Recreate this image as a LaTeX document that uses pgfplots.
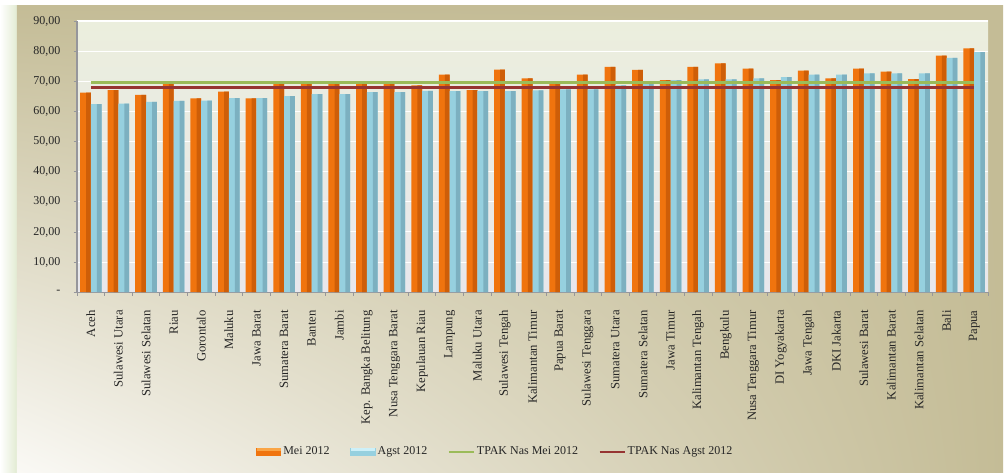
\documentclass[border=0pt]{standalone}
\usepackage{fontspec}
\setmainfont{Liberation Serif}
\usepackage{pgfplots}
\usepackage{pgfplotstable}
\pgfplotsset{compat=1.18}
\usetikzlibrary{shadings}

\definecolor{frametan}{RGB}{196,188,150}
\definecolor{framelight}{RGB}{250,249,245}
\definecolor{glow}{RGB}{226,235,210}
\definecolor{plottop}{RGB}{235,238,221}
\definecolor{plotbot}{RGB}{232,231,236}
\definecolor{orL}{RGB}{240,116,14}
\definecolor{orD}{RGB}{206,94,8}
\definecolor{orCap}{RGB}{250,165,70}
\definecolor{blL}{RGB}{150,208,223}
\definecolor{blD}{RGB}{124,176,192}
\definecolor{blCap}{RGB}{205,240,248}
\definecolor{tpakG}{RGB}{155,187,89}
\definecolor{tpakR}{RGB}{150,52,50}
\definecolor{axisgray}{RGB}{150,150,155}

\pgfplotstableread{
x mei agst
0 66.2 62.4
1 67.1 62.6
2 65.5 63.2
3 69.1 63.5
4 64.3 63.6
5 66.6 64.4
6 64.3 64.4
7 69.1 65.1
8 69.1 65.7
9 69.1 65.7
10 69.1 66.4
11 69.1 66.4
12 68.6 66.8
13 72.2 66.7
14 67.1 66.7
15 73.9 66.7
16 71.0 67.0
17 69.3 67.3
18 72.2 67.3
19 74.8 68.6
20 73.8 70.0
21 70.4 70.4
22 74.8 70.6
23 75.9 70.6
24 74.2 71.0
25 70.4 71.4
26 73.5 72.2
27 71.0 72.2
28 74.2 72.6
29 73.2 72.6
30 70.7 72.6
31 78.5 77.8
32 80.9 79.7
}\tpak

\begin{document}
\begin{tikzpicture}
\useasboundingbox (-57.75pt,-136.35pt) rectangle (696.75pt,219.15pt);
\fill[white] (-57.75pt,-136.35pt) rectangle (696.75pt,219.15pt);
\shade[left color=white, right color=glow] (-57.75pt,-134.85pt) rectangle (-45pt,214.65pt);
\shade[upper left=frametan, upper right=frametan, lower right=frametan, lower left=framelight]
  (-45pt,-134.85pt) rectangle (694.5pt,214.65pt);
\begin{axis}[
  at={(0pt,0pt)}, anchor=south west,
  scale only axis, width=683.25pt, height=203.4pt,
  xmin=-0.5, xmax=32.5, ymin=0, ymax=90,
  axis background/.style={shade, top color=plottop, bottom color=plotbot},
  axis x line*=bottom, axis y line*=left,
  axis line style={axisgray, line width=0.8pt},
  tick style={axisgray, line width=0.6pt},
  tick align=outside, major tick length=2.5pt,
  ymajorgrids, major grid style={white, line width=0.8pt},
  ytick={0,10,...,90},
  yticklabels={{-},{10,00},{20,00},{30,00},{40,00},{50,00},{60,00},{70,00},{80,00},{90,00}},
  yticklabel style={font=\fontsize{9}{10}\selectfont, text=black!85},
  yticklabel shift=6.5pt,
  xtick={-0.5,0.5,...,32.5},
  x tick label as interval,
  xticklabels={Aceh,Sulawesi Utara,Sulawesi Selatan,Riau,Gorontalo,Maluku,Jawa Barat,Sumatera Barat,Banten,Jambi,Kep. Bangka Belitung,Nusa Tenggara Barat,Kepulauan Riau,Lampung,Maluku Utara,Sulawesi Tengah,Kalimantan Timur,Papua Barat,Sulawesi Tenggara,Sumatera Utara,Sumatera Selatan,Jawa Timur,Kalimantan Tengah,Bengkulu,Nusa Tenggara Timur,DI Yogyakarta,Jawa Tengah,DKI Jakarta,Sulawesi Barat,Kalimantan Barat,Kalimantan Selatan,Bali,Papua},
  xticklabel style={rotate=90, anchor=east, font=\fontsize{9.5}{10.5}\selectfont, text=black!85},
  xticklabel shift=7.6pt,
  legend columns=4,
  legend style={draw=none, fill=none, at={(0.459,-0.589)}, anchor=center,
    font=\fontsize{9}{10}\selectfont, text=black!85,
    nodes={inner xsep=1.5pt, inner ysep=1pt},
    /tikz/every even column/.append style={column sep=14pt}},
]
\addplot[ybar, bar width=0.39, bar shift=-0.195, fill=orL, draw=none,
  legend image code/.code={\fill[orL] (0pt,-2.8pt) rectangle (19pt,2.8pt);
    \fill[orCap] (0.5pt,0.8pt) rectangle (18.5pt,2.6pt);}]
  table[x=x, y=mei]{\tpak};
\addlegendentry{Mei 2012}
\addplot[ybar, bar width=0.17, bar shift=-0.085, fill=orD, draw=none, forget plot]
  table[x=x, y=mei]{\tpak};
\addplot[ybar, bar width=0.39, bar shift=0.195, fill=blL, draw=none,
  legend image code/.code={\fill[blL] (0pt,-2.8pt) rectangle (19pt,2.8pt);
    \fill[blCap] (0.5pt,0.8pt) rectangle (18.5pt,2.6pt);}]
  table[x=x, y=agst]{\tpak};
\addlegendentry{Agst 2012}
\addplot[ybar, bar width=0.17, bar shift=0.305, fill=blD, draw=none, forget plot]
  table[x=x, y=agst]{\tpak};
\addplot[tpakG, line width=2.5pt,
  legend image code/.code={\draw[tpakG, line width=1.2pt] (0pt,0pt) -- (19pt,0pt);}]
  coordinates {(0,69.66) (32,69.66)};
\addlegendentry{TPAK Nas Mei 2012}
\addplot[tpakR, line width=2.5pt,
  legend image code/.code={\draw[tpakR, line width=1.2pt] (0pt,0pt) -- (19pt,0pt);}]
  coordinates {(0,67.88) (32,67.88)};
\addlegendentry{TPAK Nas Agst 2012}
\end{axis}
\end{tikzpicture}
\end{document}
